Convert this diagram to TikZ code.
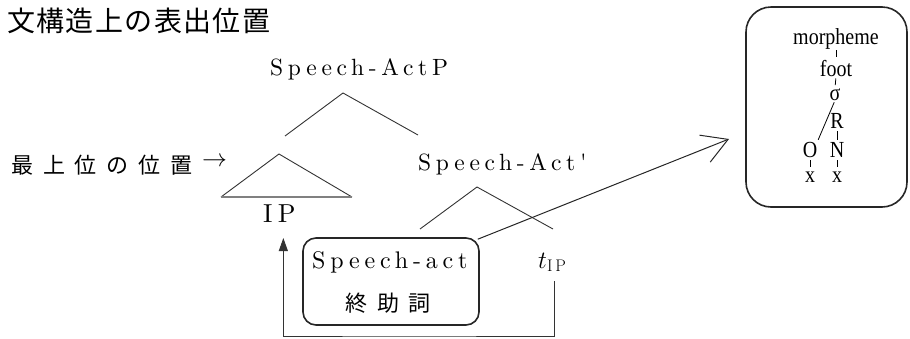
\documentclass[tikz,border=0pt]{standalone}
\usepackage{fontspec}
\usepackage{graphicx}
\newfontfamily\jpfont{Noto Sans CJK JP}[LetterSpace=5]
\newfontfamily\jpsp{Noto Sans CJK JP}[LetterSpace=45]
\newfontfamily\tmfont{Liberation Serif}
\newfontfamily\lmsp{lmroman10-regular.otf}[LetterSpace=20]
\newfontfamily\lmspb{lmroman10-regular.otf}[LetterSpace=20]
\usetikzlibrary{arrows.meta}
\begin{document}
\begin{tikzpicture}[x=1pt,y=-1pt,
  txt/.style={inner sep=0pt, text=black},
  lat/.style={txt, anchor=base west, font=\fontsize{23.5}{27}\selectfont\lmsp},
  latbig/.style={txt, anchor=base west, font=\fontsize{26}{30}\selectfont\lmspb},
  jp/.style={txt, anchor=west, font=\fontsize{22}{26}\selectfont\jpsp},
  mt/.style={txt, anchor=base, font=\fontsize{20}{22}\selectfont\tmfont},
  tree/.style={draw=black!80, line width=0.9pt},
  tick/.style={draw=black, line width=0.8pt},
  rbox/.style={draw=black!85, line width=1.6pt, fill=none}
]
\useasboundingbox (0,0) rectangle (910,338);

% title
\node[txt, anchor=west, font=\fontsize{28}{32}\selectfont\jpfont] (title) at (7,21) {文構造上の表出位置};

% tree labels
\node[lat] (sap) at (270,75) {Speech-ActP};
\node[lat] (sab) at (418,170) {Speech-Act'};
\node[latbig] (ip) at (263,222) {IP};
\node[jp] (pos) at (11,165) {最上位の位置};
\node[txt, font=\fontsize{25}{28}\selectfont] (parr) at (214.5,162) {$\rightarrow$};

% tree lines
\coordinate (a1) at (343,93);
\coordinate (l1) at (285,136);
\coordinate (r1) at (418,135);
\draw[tree] (l1) -- (a1) -- (r1);
\coordinate (a2) at (279,154);
\coordinate (l2) at (221,197);
\coordinate (r2) at (352,197);
\draw[tree] (l2) -- (a2) -- (r2);
\draw[draw=black!50, line width=1.2pt] (l2) -- (r2);
\coordinate (a3) at (477,187);
\coordinate (l3) at (420,229);
\coordinate (r3) at (553,229);
\draw[tree] (l3) -- (a3) -- (r3);

% speech-act box
\node[rbox, rounded corners=13pt, minimum width=176pt, minimum height=87pt] (box) at (391,281.5) {};
\node[lat, font=\fontsize{24}{27}\selectfont\lmsp] (sa) at (312,268) {Speech-act};
\node[jp] (shj) at (345,303) {終助詞};

% trace
\node[txt, anchor=base west, font=\fontsize{24}{28}\selectfont] (tip) at (538,268) {$t_{\mathrm{I\,P}}$};

% right box
\node[rbox, rounded corners=25pt, minimum width=161pt, minimum height=200pt] (rb) at (826.5,107) {};
\node[mt] (morph) at (836,44) {\scalebox{1}[1.15]{morpheme}};
\node[mt] (foot) at (836,76) {\scalebox{1}[1.15]{foot}};
\node[mt] (sig) at (835,100) {\scalebox{1}[1.15]{σ}};
\node[mt] (R) at (837,128) {\scalebox{1}[1.15]{R}};
\node[mt] (O) at (810,157) {\scalebox{1}[1.15]{O}};
\node[mt] (N) at (837,157) {\scalebox{1}[1.15]{N}};
\node[mt] (x1) at (810,182) {\scalebox{1}[1.15]{x}};
\node[mt] (x2) at (837,182) {\scalebox{1}[1.15]{x}};
\draw[tick, shorten <=1pt, shorten >=3pt] (morph.south) -- (foot.north);
\draw[tick, shorten <=2pt, shorten >=3pt] (foot.south) -- (sig.north);
\draw[tick, shorten <=2pt, shorten >=2pt] (sig.south) -- (O.north east);
\draw[tick, shorten <=3pt, shorten >=2pt] (R.south) -- (N.north);
\draw[tick, shorten <=3pt, shorten >=4pt] (O.south) -- (x1.north);
\draw[tick, shorten <=3pt, shorten >=4pt] (N.south) -- (x2.north);

% long arrow
\coordinate (atip) at (729,139);
\draw[draw=black!85, line width=1pt, -{Straight Barb[length=25pt,width=29pt]}] ([xshift=-2pt,yshift=-2pt]box.north east) -- (atip);

% movement arrow
\coordinate (bot) at (400,336);
\draw[draw=black!80, line width=0.9pt, -{Triangle[length=13pt,width=9pt]}] ([xshift=2.5pt,yshift=-13pt]tip.base) |- (bot) -| ([xshift=4pt,yshift=-16pt]ip.base);
\end{tikzpicture}
\end{document}
